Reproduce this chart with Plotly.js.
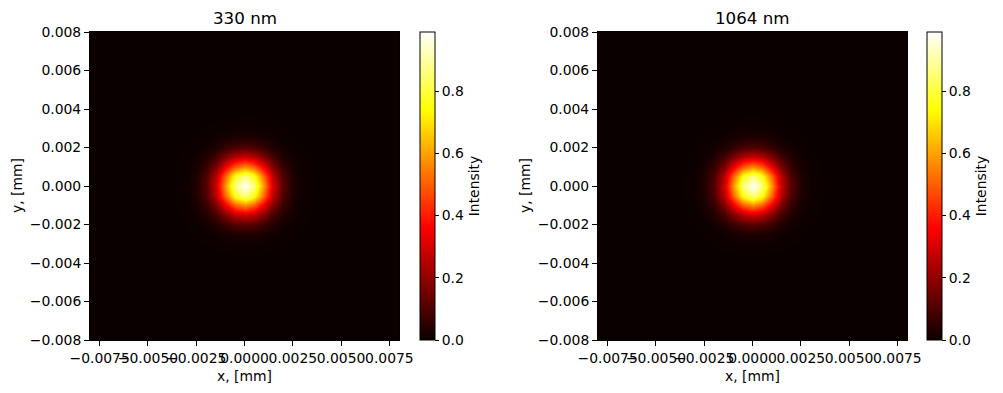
<!DOCTYPE html>
<html>
<head>
<meta charset="utf-8">
<script src="https://cdn.plot.ly/plotly-3.0.1.min.js"></script>
<style>html,body{margin:0;padding:0;background:#fff}#chart{width:1003px;height:393px}</style>
</head>
<body>
<div id="chart"></div>
<script>
// Grid coordinates (mm), same for x and y
const gridMm = [-0.008,-0.0075,-0.007,-0.0065,-0.006,-0.0055,-0.005,-0.0045,-0.004,-0.0035,-0.003,-0.0025,-0.002,-0.0015,-0.001,-0.0005,0,
                0.0005,0.001,0.0015,0.002,0.0025,0.003,0.0035,0.004,0.0045,0.005,0.0055,0.006,0.0065,0.007,0.0075,0.008];
// Intensity profiles read through the beam centre (separable beam)
const profile330 = [0,0,0,0,0,0,0,0,0.0002,0.001,0.007,0.032,0.111,0.29,0.578,0.872,0.995,
                    0.872,0.578,0.29,0.111,0.032,0.007,0.001,0.0002,0,0,0,0,0,0,0,0];
const profile1064 = [0,0,0,0,0,0,0,0,0.0002,0.001,0.007,0.031,0.108,0.286,0.574,0.870,0.995,
                     0.870,0.574,0.286,0.108,0.031,0.007,0.001,0.0002,0,0,0,0,0,0,0,0];
const panelTitles = ["330 nm", "1064 nm"];
const xTickVals = [-0.0075,-0.005,-0.0025,0,0.0025,0.005,0.0075];
const xTickText = ["\u22120.0075","\u22120.0050","\u22120.0025","0.0000","0.0025","0.0050","0.0075"];
const yTickVals = [-0.008,-0.006,-0.004,-0.002,0,0.002,0.004,0.006,0.008];
const yTickText = ["\u22120.008","\u22120.006","\u22120.004","\u22120.002","0.000","0.002","0.004","0.006","0.008"];
const cbTickVals = [0,0.2,0.4,0.6,0.8];
const cbTickText = ["0.0","0.2","0.4","0.6","0.8"];

function outer(p){ return p.map(py => p.map(px => px*py)); }

const hot = [[0,'rgb(11,0,0)'],[0.365,'rgb(255,0,0)'],[0.746,'rgb(255,255,0)'],[1,'rgb(255,255,255)']];
const W = 1003, H = 393;
const yDom = [(H-340)/H, (H-32)/H];
const xDoms = [[90/W, 399/W],[598/W, 907/W]];
const cbX = [420/W, 927/W];
const font = {family:'DejaVu Sans, sans-serif', size:13.9, color:'#000'};

const traces = [profile330, profile1064].map((p,i) => ({
  type:'heatmap', x:gridMm, y:gridMm, z:outer(p),
  xaxis: i? 'x2':'x', yaxis: i? 'y2':'y',
  colorscale: hot, zmin:0, zmax:0.99, zsmooth:'best', hoverinfo:'skip',
  colorbar:{
    x:cbX[i], xanchor:'left', xpad:0, ypad:0, y:yDom[0], yanchor:'bottom',
    len:308, lenmode:'pixels', thickness:15, thicknessmode:'pixels',
    outlinecolor:'#000', outlinewidth:1,
    tickvals:cbTickVals, ticktext:cbTickText, ticks:'outside', ticklen:4, tickcolor:'#000',
    tickfont:font,
    title:{text:'Intensity', side:'right', font:font}
  }
}));

function xa(i){ return {domain:xDoms[i], range:[-0.008,0.008], tickvals:xTickVals, ticktext:xTickText, tickangle:0,
  ticks:'outside', ticklen:5, tickcolor:'#000', showline:true, linecolor:'#000', linewidth:1, mirror:true,
  showgrid:false, zeroline:false, tickfont:font, anchor: i? 'y2':'y'}; }
function ya(i){ return {domain:yDom, range:[-0.008,0.008], tickvals:yTickVals, ticktext:yTickText, tickangle:0,
  ticks:'outside', ticklen:5, tickcolor:'#000', showline:true, linecolor:'#000', linewidth:1, mirror:true,
  showgrid:false, zeroline:false, tickfont:font, anchor: i? 'x2':'x'}; }

const annotations = [];
panelTitles.forEach((t,i) => {
  const cx = (xDoms[i][0]+xDoms[i][1])/2;
  annotations.push({text:t, xref:'paper', yref:'paper', x:cx, y:(H-18)/H, xanchor:'center', yanchor:'middle', showarrow:false, font:{family:font.family, size:16.7, color:'#000'}});
  annotations.push({text:'x, [mm]', xref:'paper', yref:'paper', x:cx, y:(H-376)/H, xanchor:'center', yanchor:'middle', showarrow:false, font:font});
  annotations.push({text:'y, [mm]', xref:'paper', yref:'paper', x:(i? 525:17)/W, y:(H-186)/H, xanchor:'center', yanchor:'middle', textangle:-90, showarrow:false, font:font});
});

const layout = {
  width:W, height:H, margin:{l:0,r:0,t:0,b:0}, paper_bgcolor:'#fff', plot_bgcolor:'#fff',
  font:font, showlegend:false,
  xaxis:xa(0), yaxis:ya(0), xaxis2:xa(1), yaxis2:ya(1), annotations:annotations
};
Plotly.newPlot('chart', traces, layout, {staticPlot:true, displayModeBar:false});
</script>
</body>
</html>
